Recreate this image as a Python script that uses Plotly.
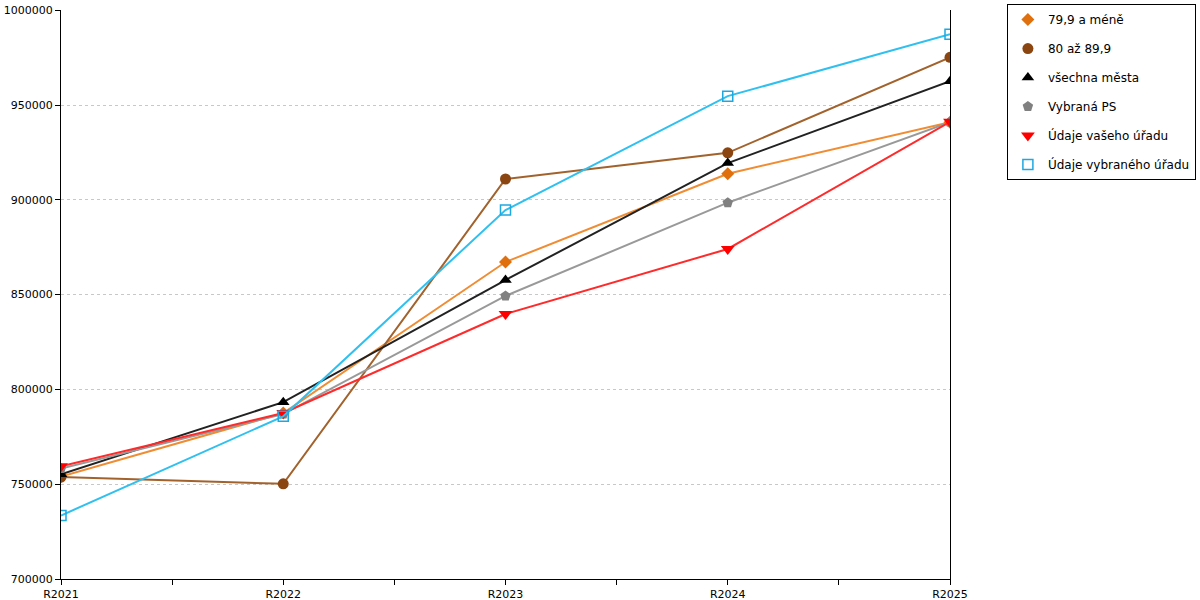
import plotly.graph_objects as go

categories = ["R2021", "R2022", "R2023", "R2024", "R2025"]

series_names = ["79,9 a méně", "80 až 89,9", "všechna města", "Vybraná PS",
                "Údaje vašeho úřadu", "Údaje vybraného úřadu"]

v_799 = [754000, 787500, 867200, 913800, 941000]
v_80_899 = [753800, 750200, 911000, 924800, 975200]
v_vsechna = [755200, 793300, 857700, 919400, 962600]
v_ps = [758300, 787000, 849300, 898500, 941000]
v_vas = [759500, 787600, 839800, 874100, 941200]
v_vybrany = [733500, 785800, 894600, 954700, 987400]

y_ticks = [700000, 750000, 800000, 850000, 900000, 950000, 1000000]

values = [v_799, v_80_899, v_vsechna, v_ps, v_vas, v_vybrany]
line_colors = ["#F08C32", "#A2622C", "#222222", "#999999", "#FF2A2A", "#30C0F0"]
marker_colors = ["#E0700E", "#8B4510", "#000000", "#808080", "#FF0000", "#1EA8E0"]
symbols = ["diamond", "circle", "triangle-up", "pentagon", "triangle-down", "square-open"]
sizes = [10, 11, 11, 11, 12, 10]

xs = list(range(len(categories)))

fig = go.Figure()
for name, vals, lc, mc, sym, sz in zip(series_names, values, line_colors, marker_colors, symbols, sizes):
    fig.add_trace(go.Scatter(
        x=xs, y=vals, mode="lines+markers", name=name, showlegend=False,
        line=dict(color=lc, width=2),
        marker=dict(symbol=sym, size=sz, color=mc,
                    line=dict(color=mc, width=1.5 if sym == "square-open" else 0)),
        hovertemplate="%{y}<extra>" + name + "</extra>",
    ))
for i, (name, mc, sym, sz) in enumerate(zip(series_names, marker_colors, symbols, sizes)):
    fig.add_trace(go.Scatter(
        x=[None], y=[None], mode="markers", name=name, legendgroup="g%d" % i,
        marker=dict(symbol=sym, size=sz, color=mc,
                    line=dict(color=mc, width=1.5 if sym == "square-open" else 0)),
    ))

half = [i + 0.5 for i in xs[:-1]]

fig.update_layout(
    width=1200, height=600,
    margin=dict(l=61, r=250, t=10, b=21, autoexpand=False),
    paper_bgcolor="white", plot_bgcolor="white",
    font=dict(family="DejaVu Sans", size=11, color="#000000"),
    xaxis=dict(
        range=[0, len(categories) - 1], tickvals=xs, ticktext=categories,
        showgrid=False, zeroline=False, showline=True, linecolor="black", linewidth=1,
        ticks="outside", ticklen=5, tickcolor="black", automargin=False,
        minor=dict(tickvals=half, ticks="outside", ticklen=5, tickcolor="black", showgrid=False),
        tickfont=dict(size=11), ticklabeloverflow="allow",
    ),
    yaxis=dict(
        range=[700000, 1000150], tickvals=y_ticks, tickformat="d",
        showgrid=True, gridcolor="#C8C8C8", griddash="dot", gridwidth=1,
        zeroline=False, showline=True, linecolor="black", linewidth=1, mirror=True,
        ticks="outside", ticklen=5, tickcolor="black", automargin=False,
        tickfont=dict(size=11), ticklabeloverflow="allow",
    ),
    legend=dict(
        x=1.064, y=1.0105, xanchor="left", yanchor="top",
        bordercolor="black", borderwidth=1, bgcolor="white",
        font=dict(family="DejaVu Sans", size=12),
        traceorder="grouped", tracegroupgap=10, itemwidth=30,
    ),
)

fig.write_html(
    "out.html",
    config={"displayModeBar": False},
    post_script="document.body.style.margin='0';document.body.style.overflow='hidden';",
)
